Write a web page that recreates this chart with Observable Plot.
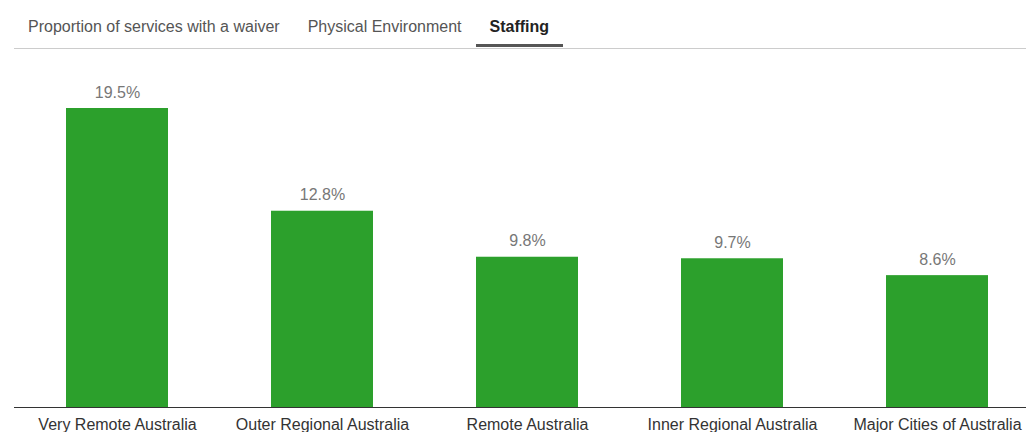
<!DOCTYPE html>
<html>
<head>
<meta charset="utf-8">
<script src="https://cdn.jsdelivr.net/npm/d3@7"></script>
<script src="https://cdn.jsdelivr.net/npm/@observablehq/plot@0.6"></script>
<style>
  html, body { margin: 0; padding: 0; background: #fff; }
  body { width: 1026px; height: 432px; overflow: hidden; font-family: "Liberation Sans", Arial, sans-serif; }
  .tabs { position: relative; height: 49px; margin-left: 14px; border-bottom: 1px solid #ccc; box-sizing: border-box; display: flex; }
  .tab { padding: 17px 14px 0 14px; font-size: 16px; color: #555; line-height: 20px; height: 48px; box-sizing: border-box; position: relative; }
  .tab.active { color: #222; font-weight: bold; }
  .tab.active::after { content: ""; position: absolute; left: 0; right: 0; bottom: 1px; height: 3px; background: #555; }
  #chart svg { display: block; }
</style>
</head>
<body>
<div class="tabs" id="tabs"></div>
<div id="chart"></div>
<script>
const tabs = ["Proportion of services with a waiver", "Physical Environment", "Staffing"];
const activeTab = "Staffing";
const categories = ["Very Remote Australia", "Outer Regional Australia", "Remote Australia", "Inner Regional Australia", "Major Cities of Australia"];
const values = [19.5, 12.8, 9.8, 9.7, 8.6];

const tabsEl = document.getElementById("tabs");
for (const t of tabs) {
  const d = document.createElement("div");
  d.className = "tab" + (t === activeTab ? " active" : "");
  d.textContent = t;
  tabsEl.appendChild(d);
}

const data = categories.map((c, i) => ({category: c, value: values[i]}));

const chart = Plot.plot({
  width: 1026,
  height: 383,
  marginLeft: 14,
  marginRight: 0,
  marginTop: 59,
  marginBottom: 25,
  style: {fontFamily: "Liberation Sans, Arial, sans-serif", fontSize: "16px", background: "#fff"},
  x: {domain: categories, range: [14, 1040], paddingInner: 0.504, paddingOuter: 0.248, label: null},
  y: {domain: [0, 19.5], axis: null},
  marks: [
    Plot.barY(data, {x: "category", y: "value", fill: "#2ca02c"}),
    Plot.ruleY([0], {stroke: "#333", strokeWidth: 1}),
    Plot.text(data, {x: "category", y: "value", text: d => d.value.toFixed(1) + "%", dy: -16, lineAnchor: "middle", fill: "#777", fontSize: 16}),
    Plot.axisX({tickSize: 0, tickPadding: 11, fontSize: 16, color: "#333", label: null})
  ]
});
document.getElementById("chart").appendChild(chart);
</script>
</body>
</html>
